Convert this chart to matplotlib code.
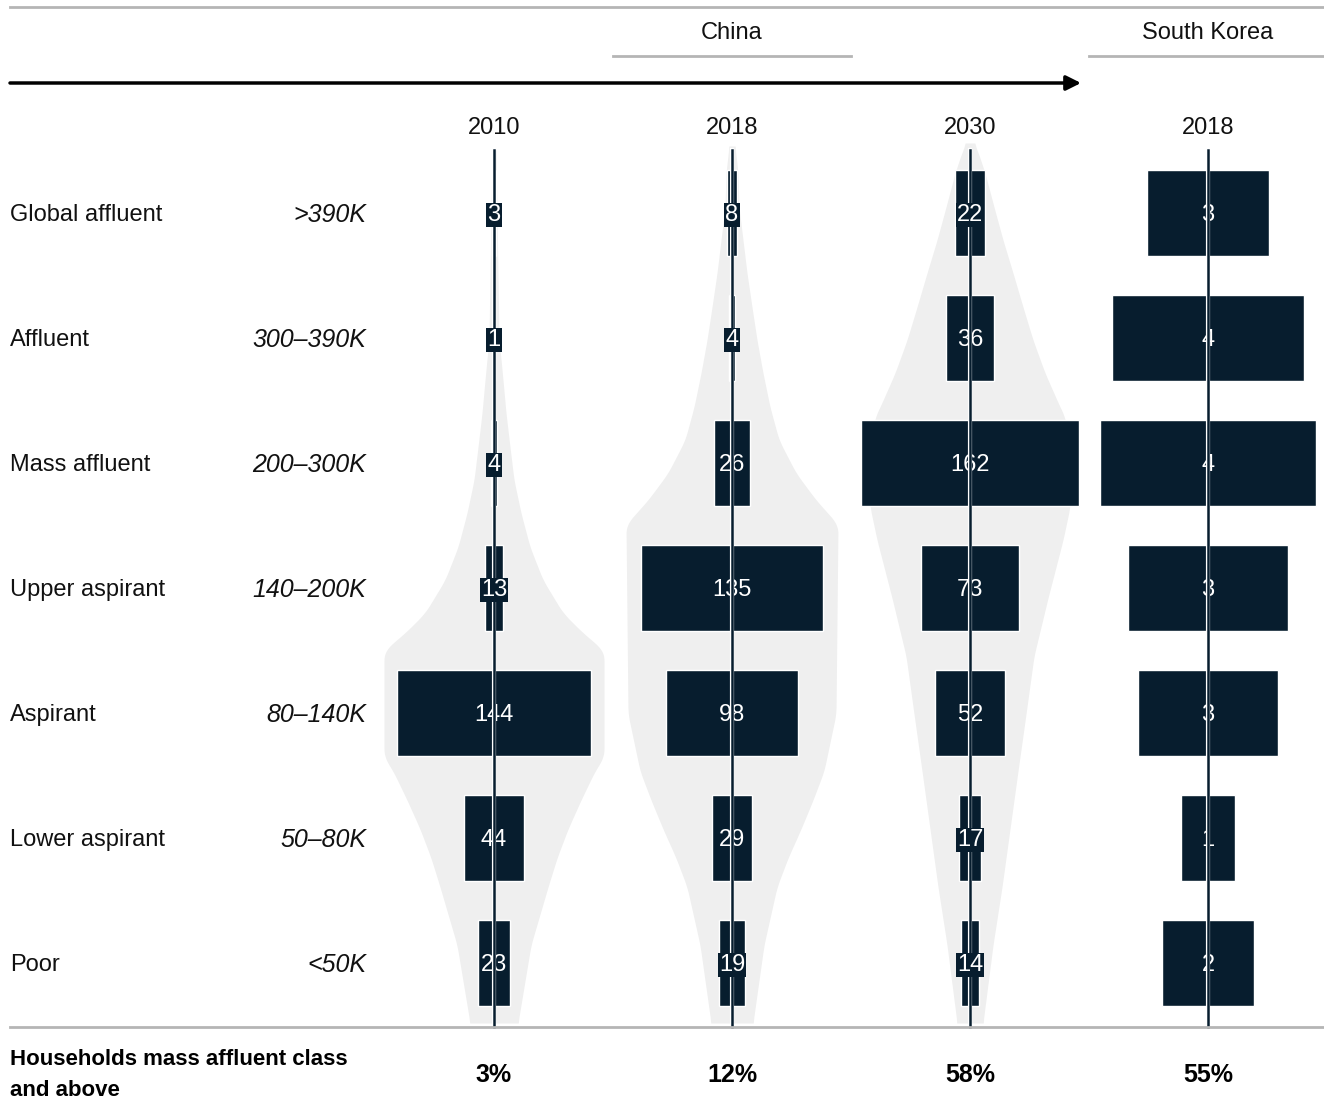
import numpy as np
import matplotlib
matplotlib.use("Agg")
import matplotlib.pyplot as plt
import matplotlib.patheffects as pe

plt.rcParams['font.family'] = ['Liberation Sans', 'DejaVu Sans']

# data
classes = ["Global affluent", "Affluent", "Mass affluent", "Upper aspirant",
           "Aspirant", "Lower aspirant", "Poor"]
incomes = [">390K", "300\u2013390K", "200\u2013300K", "140\u2013200K",
           "80\u2013140K", "50\u201380K", "<50K"]
years = ["2010", "2018", "2030", "2018"]
china_2010 = [3, 1, 4, 13, 144, 44, 23]
china_2018 = [8, 4, 26, 135, 98, 29, 19]
china_2030 = [22, 36, 162, 73, 52, 17, 14]
# South Korea, millions of households (labels are rounded)
korea_2018 = [2.56, 4.02, 4.48, 3.35, 2.90, 1.12, 1.90]
korea_labels = ["3", "4", "4", "3", "3", "1", "2"]
share_labels = ["3%", "12%", "58%", "55%"]

# grey envelope outline behind the China columns: (y, half width) in px
env_2010_y = [150, 213, 273, 338, 380, 413, 447, 480, 513, 547, 580, 613, 633, 647, 652,
              757, 771, 800, 829, 858, 887, 945, 1023]
env_2010_w = [2, 3, 4, 5, 9, 12, 16, 20, 27, 36, 49, 69, 89, 106, 110,
              110, 101, 87, 74, 63, 54, 37, 24]
env_2018_y = [146, 173, 207, 240, 273, 307, 340, 373, 407, 440, 473, 500, 520, 525,
              714, 771, 800, 829, 858, 887, 945, 1023]
env_2018_w = [3, 6, 7, 11, 15, 20, 25, 31, 38, 47, 64, 84, 102, 106,
              104, 92, 81, 69, 56, 45, 32, 21]
env_2030_y = [143, 152, 173, 207, 240, 273, 307, 340, 373, 407, 417, 460, 507, 540,
              598, 656, 714, 771, 829, 887, 945, 1023]
env_2030_w = [4, 8, 15, 24, 33, 43, 53, 63, 75, 90, 95, 102, 100, 93,
              78, 64, 56, 48, 40, 32, 23, 13]

navy = "#071d2e"
grey_fill = "#efefef"
grey_line = "#b5b5b5"

fig = plt.figure(figsize=(13.24, 11.04), dpi=100)
ax = fig.add_axes([0, 0, 1, 1])
ax.set_xlim(0, 1324)
ax.set_ylim(1104, 0)
ax.axis("off")

col_x = [494, 732, 970, 1208]
row_y = np.array([213 + 125 * i for i in range(len(classes))])
px_china = 1.35
px_korea = 48
dy = 2  # text baseline nudge

# envelopes
for cx, ey, ew in [(col_x[0], env_2010_y, env_2010_w),
                   (col_x[1], env_2018_y, env_2018_w),
                   (col_x[2], env_2030_y, env_2030_w)]:
    yy = np.linspace(ey[0], ey[-1], 900)
    hw = np.interp(yy, ey, ew)
    k = 8
    hw = np.convolve(np.pad(hw, k, mode="edge"), np.ones(2 * k + 1) / (2 * k + 1), mode="same")[k:-k]
    ax.fill_betweenx(yy, cx - hw, cx + hw, color=grey_fill, lw=0, zorder=1)

# bars
series = [(china_2010, px_china, [str(v) for v in china_2010]),
          (china_2018, px_china, [str(v) for v in china_2018]),
          (china_2030, px_china, [str(v) for v in china_2030]),
          (korea_2018, px_korea, korea_labels)]
for cx, (vals, sc, labs) in zip(col_x, series):
    w = np.array(vals) * sc
    ax.barh(row_y, w, left=cx - w / 2, height=86, color=navy,
            edgecolor="white", linewidth=1, zorder=2)

# centre lines
for cx in col_x:
    ax.plot([cx, cx], [150, 1027], color=navy, lw=1.8, zorder=3,
            path_effects=[pe.Stroke(linewidth=3.0, foreground="white"), pe.Normal()])

# value labels
for cx, (vals, sc, labs) in zip(col_x, series):
    for y, v, lab in zip(row_y, vals, labs):
        w = v * sc
        if w < len(lab) * 13 + 4:
            ax.text(cx, y + dy, lab, color="white", fontsize=17, ha="center", va="center", zorder=4,
                    bbox=dict(boxstyle="square,pad=0.05", facecolor=navy, edgecolor="none"))
        else:
            ax.text(cx, y + dy, lab, color="white", fontsize=17, ha="center", va="center", zorder=2.5)

# row labels
for y, c, inc in zip(row_y, classes, incomes):
    ax.text(10, y + dy, c, fontsize=17, ha="left", va="center", color="#111111")
    ax.text(366, y + dy, inc, fontsize=18, ha="right", va="center", style="italic", color="#111111")

# header
ax.plot([10, 1324], [7, 7], color=grey_line, lw=2)
ax.text(732, 31 + dy, "China", fontsize=17, ha="center", va="center", color="#111111")
ax.plot([613, 851], [56, 56], color=grey_line, lw=2)
ax.text(1208, 31 + dy, "South Korea", fontsize=17, ha="center", va="center", color="#111111")
ax.plot([1089, 1324], [56, 56], color=grey_line, lw=2)
ax.annotate("", xy=(1081, 83), xytext=(10, 83),
            arrowprops=dict(arrowstyle="-|>", color="black", lw=2.5, mutation_scale=22,
                            shrinkA=0, shrinkB=0))
for cx, yr in zip(col_x, years):
    ax.text(cx, 126 + dy, yr, fontsize=17, ha="center", va="center", color="#111111")

# footer
ax.plot([10, 1324], [1027, 1027], color=grey_line, lw=2, zorder=5)
ax.text(10, 1075, "Households mass affluent class\nand above", fontsize=16, fontweight="bold",
        ha="left", va="center", linespacing=1.6, color="black")
for cx, s in zip(col_x, share_labels):
    ax.text(cx, 1073 + dy, s, fontsize=18, fontweight="bold", ha="center", va="center", color="black")

fig.savefig("out.png", dpi=100)
